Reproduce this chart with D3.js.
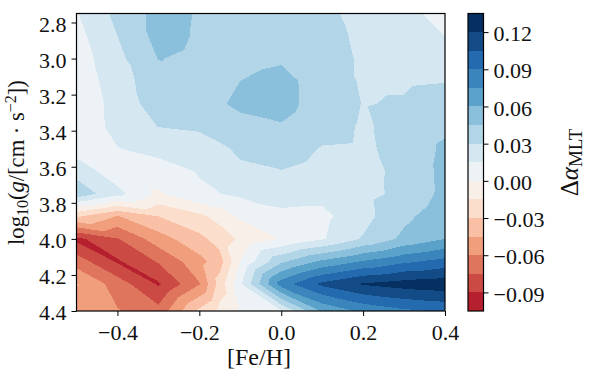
<!DOCTYPE html>
<html>
<head>
<meta charset="utf-8">
<script src="https://cdn.jsdelivr.net/npm/d3@7"></script>
<style>
  html, body { margin: 0; background: #fff; }
  svg { display: block; }
  text { font-family: "Liberation Serif", serif; fill: #111; }
</style>
</head>
<body>
<div id="graph"></div>
<script>
const feh = [-0.5, -0.4, -0.3, -0.2, -0.15, -0.1, 0.0, 0.1, 0.2, 0.3, 0.4];
const logg = [2.75, 2.875, 3.0, 3.125, 3.25, 3.375, 3.5, 3.625, 3.75, 3.875, 4.0, 4.125, 4.25, 4.4];

// one row per logg, one value per feh
const dAlpha = [
  [0.014, 0.034, 0.05, 0.044, 0.042, 0.04, 0.037, 0.033, 0.026, 0.018, 0.011],
  [0.01, 0.03, 0.05, 0.0435, 0.042, 0.04, 0.04, 0.034, 0.0278, 0.0215, 0.015],
  [0.007, 0.026, 0.0455, 0.042, 0.041, 0.04, 0.043, 0.035, 0.0285, 0.025, 0.022],
  [0.004, 0.024, 0.038, 0.041, 0.042, 0.045, 0.05, 0.038, 0.0285, 0.0285, 0.0295],
  [0.002, 0.0215, 0.037, 0.041, 0.044, 0.047, 0.05, 0.0386, 0.0295, 0.031, 0.0357],
  [0.002, 0.021, 0.0305, 0.033, 0.038, 0.042, 0.044, 0.036, 0.0285, 0.034, 0.0415],
  [0.008, 0.0145, 0.02, 0.021, 0.027, 0.033, 0.038, 0.029, 0.028, 0.034, 0.048],
  [0.0245, 0.006, 0.008, 0.016, 0.022, 0.027, 0.0295, 0.0245, 0.0265, 0.033, 0.0495],
  [0.04, 0.0195, -0.002, 0.0125, 0.0148, 0.0175, 0.02, 0.0195, 0.026, 0.0335, 0.049],
  [-0.028, -0.046, -0.03, -0.0185, -0.0095, 0.002, 0.012, 0.011, 0.025, 0.0415, 0.054],
  [-0.094, -0.076, -0.052, -0.034, -0.024, -0.012, 0.001, 0.0135, 0.0313, 0.0485, 0.06],
  [-0.067, -0.092, -0.0735, -0.05, -0.036, 0.0, 0.042, 0.0627, 0.076, 0.087, 0.095],
  [-0.044, -0.067, -0.092, -0.061, -0.024, 0.0125, 0.0825, 0.1085, 0.1215, 0.127, 0.13],
  [-0.055, -0.059, -0.07, -0.0267, -0.01, 0.002, 0.014, 0.062, 0.0785, 0.087, 0.092]
];

const levels = d3.range(17).map(i => -0.105 + i * 0.015);
const xTicks = [-0.4, -0.2, 0.0, 0.2, 0.4];
const yTicks = [2.8, 3.0, 3.2, 3.4, 3.6, 3.8, 4.0, 4.2, 4.4];
const barTicks = [-0.09, -0.06, -0.03, 0.0, 0.03, 0.06, 0.09, 0.12];

const rdbu = d3.piecewise(d3.interpolateRgb, ['#67001f', '#b2182b', '#d6604d', '#f4a582', '#fddbc7',
  '#f7f7f7', '#d1e5f0', '#92c5de', '#4393c3', '#2166ac', '#053061']);
const color = d3.scaleLinear().domain([-0.125, 0.125]).range([0, 1]).clamp(true);
const bandColor = i => rdbu(color((levels[i] + levels[i + 1]) / 2));

const width = 598, height = 382;
const x = d3.scaleLinear().domain([-0.5, 0.4]).range([76.5, 445]);
const y = d3.scaleLinear().domain([2.75, 4.4]).range([13.5, 311]);
const barY = d3.scaleLinear().domain([-0.105, 0.135]).range([311, 13.5]);

const svg = d3.select('#graph')
  .append('svg')
  .attr('width', width)
  .attr('height', height);

// clip one triangle to the part at or above a level
function clipAbove(tri, level) {
  const out = [];
  tri.forEach((p, i) => {
    const q = tri[(i + 1) % 3];
    if (p.v >= level) out.push(p);
    if ((p.v >= level) !== (q.v >= level)) {
      const t = (level - p.v) / (q.v - p.v);
      out.push({ px: p.px + t * (q.px - p.px), py: p.py + t * (q.py - p.py), v: level });
    }
  });
  return out;
}

const triangles = [];
for (let j = 0; j < logg.length - 1; j++) {
  for (let i = 0; i < feh.length - 1; i++) {
    const corner = (a, b) => ({ px: x(feh[a]), py: y(logg[b]), v: dAlpha[b][a] });
    const tl = corner(i, j), tr = corner(i + 1, j), bl = corner(i, j + 1), br = corner(i + 1, j + 1);
    triangles.push([tl, tr, br], [tl, br, bl]);
  }
}

const bandPath = i => {
  const path = d3.path();
  triangles.forEach(tri => {
    const poly = clipAbove(tri, levels[i]);
    if (poly.length < 3) return;
    poly.forEach((p, k) => k ? path.lineTo(p.px, p.py) : path.moveTo(p.px, p.py));
    path.closePath();
  });
  return path.toString();
};

svg.append('g')
  .selectAll('path')
  .data(d3.range(levels.length - 1))
  .join('path')
  .attr('d', bandPath)
  .attr('fill', bandColor)
  .attr('shape-rendering', 'crispEdges');

// colorbar
svg.append('g')
  .selectAll('rect')
  .data(d3.range(levels.length - 1))
  .join('rect')
  .attr('x', 468)
  .attr('width', 15.5)
  .attr('y', i => barY(levels[i + 1]))
  .attr('height', i => barY(levels[i]) - barY(levels[i + 1]))
  .attr('fill', bandColor)
  .attr('shape-rendering', 'crispEdges');

function styleAxis(g) {
  g.select('.domain').remove();
  g.selectAll('line').attr('stroke', '#000').attr('stroke-width', 1);
  g.selectAll('text').attr('font-size', 22).attr('font-family', '"Liberation Serif", serif').attr('fill', '#111');
}

svg.append('g')
  .attr('transform', `translate(0,${y(4.4)})`)
  .call(d3.axisBottom(x).tickValues(xTicks).tickFormat(d3.format('.1f')).tickSize(5).tickPadding(8.5))
  .call(styleAxis);

svg.append('g')
  .attr('transform', `translate(${x(-0.5)},0)`)
  .call(d3.axisLeft(y).tickValues(yTicks).tickFormat(d3.format('.1f')).tickSize(5).tickPadding(5))
  .call(styleAxis)
  .call(g => g.selectAll('text').attr('dy', '.39em'));

svg.append('g')
  .attr('transform', 'translate(483.5,0)')
  .call(d3.axisRight(barY).tickValues(barTicks).tickFormat(d3.format('.2f')).tickSize(5).tickPadding(5))
  .call(styleAxis)
  .call(g => g.selectAll('text').attr('dy', '.39em'));

// frames
svg.append('rect')
  .attr('x', x(-0.5)).attr('y', y(2.75))
  .attr('width', x(0.4) - x(-0.5)).attr('height', y(4.4) - y(2.75))
  .attr('fill', 'none').attr('stroke', '#000').attr('stroke-width', 1.2);

svg.append('rect')
  .attr('x', 468).attr('y', barY(0.135))
  .attr('width', 15.5).attr('height', barY(-0.105) - barY(0.135))
  .attr('fill', 'none').attr('stroke', '#000').attr('stroke-width', 1.2);

// labels
svg.append('text')
  .attr('x', 259)
  .attr('y', 365)
  .attr('text-anchor', 'middle')
  .attr('font-size', 24)
  .text('[Fe/H]');

const yLabel = svg.append('text')
  .attr('transform', 'translate(24,162.5) rotate(-90)')
  .attr('text-anchor', 'middle')
  .attr('font-size', 22.6);
yLabel.append('tspan').text('log');
yLabel.append('tspan').attr('dy', 4).attr('font-size', 16).text('10');
yLabel.append('tspan').attr('dy', -4).text('(');
yLabel.append('tspan').attr('font-style', 'italic').text('g');
yLabel.append('tspan').text('/[cm · s');
yLabel.append('tspan').attr('dy', -8).attr('font-size', 16).text('−2');
yLabel.append('tspan').attr('dy', 8).text('])');

const barLabel = svg.append('text')
  .attr('transform', 'translate(578,162.5) rotate(-90)')
  .attr('text-anchor', 'middle')
  .attr('font-size', 25);
barLabel.append('tspan').text('Δ');
barLabel.append('tspan').attr('font-style', 'italic').text('α');
barLabel.append('tspan').attr('dy', 4).attr('font-size', 19).text('MLT');
</script>
</body>
</html>
